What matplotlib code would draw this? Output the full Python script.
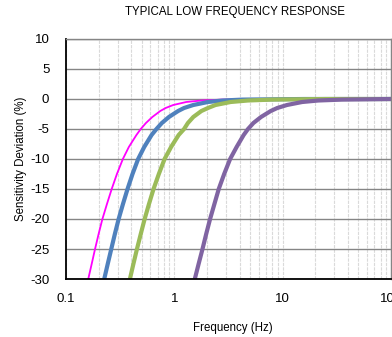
import matplotlib
matplotlib.use("Agg")
import matplotlib.pyplot as plt
from matplotlib.ticker import LogLocator, FixedLocator, NullFormatter

plt.rcParams['font.family'] = ['Liberation Sans', 'DejaVu Sans']

# Data (frequency in Hz, deviation in %)
dev_levels = [-30, -27.5, -25, -22.5, -20, -17.5, -15, -12.5, -10, -8, -6, -5,
              -4, -3, -2, -1.5, -1, -0.5, -0.25, -0.1, 0, 0]

magenta_f = [0.1605, 0.1726, 0.1854, 0.2000, 0.2168, 0.2388, 0.2642, 0.2951,
             0.3350, 0.3802, 0.4467, 0.4898, 0.5470, 0.6266, 0.7413, 0.8318,
             0.9772, 1.288, 1.778, 2.754, 10, 100]
magenta_d = dev_levels

blue_f = [0.2254, 0.2427, 0.2618, 0.2825, 0.3062, 0.3357, 0.3698, 0.4111,
          0.4634, 0.5272, 0.6166, 0.6839, 0.7674, 0.8913, 1.084, 1.230,
          1.496, 2.042, 2.818, 4.266, 15.85, 100]
blue_d = dev_levels

green_f = [0.389, 0.4188, 0.4519, 0.4898, 0.5321, 0.5834, 0.6427, 0.7194,
           0.8128, 0.9333, 1.096, 1.230, 1.334, 1.496, 1.778, 2.042,
           2.399, 3.311, 4.786, 7.943, 25.12, 100]
green_d = dev_levels

purple_f = [1.545, 1.675, 1.820, 1.968, 2.138, 2.344, 2.570, 2.884,
            3.273, 3.758, 4.365, 4.786, 5.370, 6.310, 7.762, 8.913,
            10.96, 15.14, 21.38, 35.48, 100, 100]
purple_d = dev_levels

y_ticks = [-30, -25, -20, -15, -10, -5, 0, 5, 10]
x_ticks = [0.1, 1, 10, 100]
x_tick_labels = ["0.1", "1", "10", "100"]

title = "TYPICAL LOW FREQUENCY RESPONSE"
xlabel = "Frequency (Hz)"
ylabel = "Sensitivity Deviation (%)"

fig = plt.figure(figsize=(3.92, 3.37), dpi=100)
ax = fig.add_axes([66/392, 58/337, 325/392, 240/337])

ax.set_xscale('log')
ax.set_xlim(0.1, 100)
ax.set_ylim(-30, 10)

# grid
ax.xaxis.set_minor_locator(LogLocator(base=10, subs=range(2, 10)))
ax.xaxis.set_minor_formatter(NullFormatter())
ax.grid(True, which='both', axis='x', color='#DADADA', linewidth=0.8, linestyle=(0, (3, 1)))
ax.grid(True, which='major', axis='y', color='#858585', linewidth=1.0)
ax.set_axisbelow(True)

ax.plot(magenta_f, magenta_d, color='#FF00FF', linewidth=1.3, solid_capstyle='butt')
ax.plot(blue_f, blue_d, color='#4F81BD', linewidth=3.0, solid_capstyle='butt')
ax.plot(green_f, green_d, color='#9BBB59', linewidth=3.0, solid_capstyle='butt')
ax.plot(purple_f, purple_d, color='#8064A2', linewidth=3.0, solid_capstyle='butt')

ax.set_xticks(x_ticks)
ax.set_xticklabels(x_tick_labels)
ax.yaxis.set_major_locator(FixedLocator(y_ticks))
ax.set_yticklabels([str(v) for v in y_ticks])
ax.tick_params(axis='both', which='both', length=0, labelsize=9.5)
ax.tick_params(axis='y', pad=12)
ax.tick_params(axis='x', pad=10)

for s in ['top', 'right']:
    ax.spines[s].set_color('#858585')
    ax.spines[s].set_linewidth(1.0)
for s in ['left', 'bottom']:
    ax.spines[s].set_color('black')
    ax.spines[s].set_linewidth(1.3)

fig.text(234.7/392, 1 - 12/337, title, ha='center', va='center', fontsize=8.3)
fig.text(233/392, 1 - 328/337, xlabel, ha='center', va='center', fontsize=8.3)
fig.text(21/392, 1 - 159/337, ylabel, ha='center', va='center', rotation=90, fontsize=8.3)

fig.savefig('out.png', dpi=100)
